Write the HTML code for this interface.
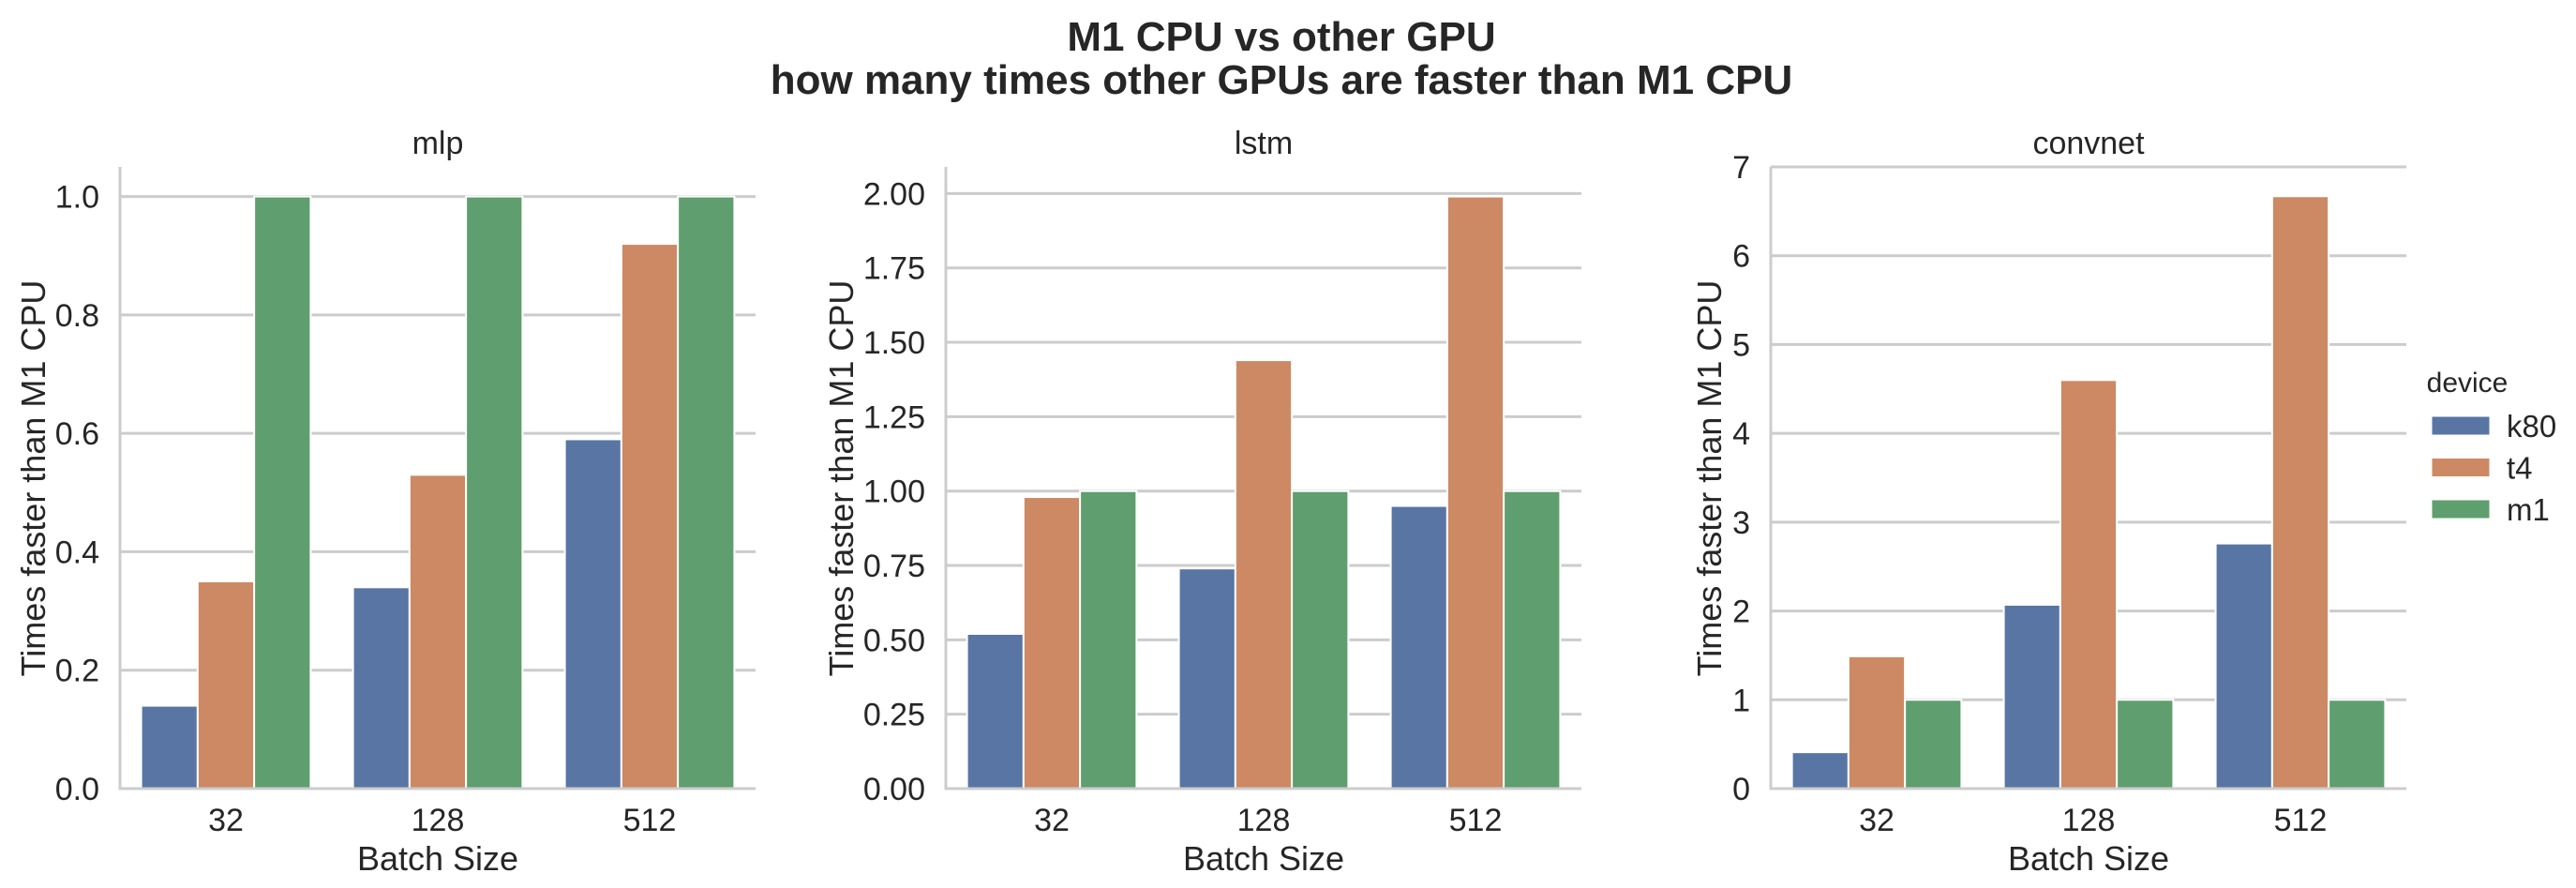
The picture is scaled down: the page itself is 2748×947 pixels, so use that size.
<!DOCTYPE html>
<html><head><meta charset="utf-8"><style>
body{margin:0;background:#fff;}
svg text{font-family:"Liberation Sans",Arial,sans-serif;fill:#262626;}
</style></head><body>
<svg id="chart" width="2748" height="942" xmlns="http://www.w3.org/2000/svg">
<text x="1367" y="54" font-size="44" font-weight="bold" text-anchor="middle">M1 CPU vs other GPU</text>
<text x="1367" y="100" font-size="44" font-weight="bold" text-anchor="middle">how many times other GPUs are faster than M1 CPU</text>
<g id="panels"></g>
<g id="legend">
<text x="2632" y="418" font-size="30" text-anchor="middle">device</text>
</g>
</svg>
<script>
const categories = ["32", "128", "512"];
const devices = ["k80", "t4", "m1"];
const panelNames = ["mlp", "lstm", "convnet"];
const mlpK80 = [0.14, 0.34, 0.59];
const mlpT4 = [0.35, 0.53, 0.92];
const mlpM1 = [1, 1, 1];
const lstmK80 = [0.52, 0.74, 0.95];
const lstmT4 = [0.98, 1.44, 1.99];
const lstmM1 = [1, 1, 1];
const convK80 = [0.41, 2.07, 2.76];
const convT4 = [1.49, 4.60, 6.67];
const convM1 = [1, 1, 1];
const mlpTicks = ["0.0", "0.2", "0.4", "0.6", "0.8", "1.0"];
const lstmTicks = ["0.00", "0.25", "0.50", "0.75", "1.00", "1.25", "1.50", "1.75", "2.00"];
const convTicks = ["0", "1", "2", "3", "4", "5", "6", "7"];

const NS = "http://www.w3.org/2000/svg";
const colors = ["#5875a4", "#cc8963", "#5f9e6e"];
const panelsG = document.getElementById("panels");
function mk(tag, attrs, parent, txt) {
  const e = document.createElementNS(NS, tag);
  for (const k in attrs) e.setAttribute(k, attrs[k]);
  if (txt !== undefined) e.textContent = txt;
  parent.appendChild(e);
  return e;
}
const series = [[mlpK80, mlpT4, mlpM1], [lstmK80, lstmT4, lstmM1], [convK80, convT4, convM1]];
const tickSets = [mlpTicks, lstmTicks, convTicks];
const lefts = [128, 1009, 1889];
const width = 678, top0 = 178, bottom = 841;
for (let p = 0; p < 3; p++) {
  const g = mk("g", {}, panelsG);
  
  
  const L = lefts[p], R = L + width;
  const ticks = tickSets[p].map(Number);
  const maxData = Math.max(...series[p].flat());
  const ymax = p === 2 ? Number(tickSets[p][tickSets[p].length - 1]) : maxData * 1.05;
  const y = v => bottom - (v / ymax) * (bottom - top0);
  const band = width / categories.length;
  const x = i => L + band * i + band / 2;
  ticks.forEach((t, i) => {
    const gl = mk("line", {x1: L, x2: R, y1: y(t), y2: y(t), stroke: "#cccccc", "stroke-width": 3}, g);
    
    
    const tl = mk("text", {x: L - 22, y: y(t) + 12, "font-size": 34, "text-anchor": "end"}, g, tickSets[p][i]);
    
    
  });
  const bw = band * 0.8 / 3;
  series[p].forEach((vals, s) => {
    vals.forEach((v, i) => {
      const bx = x(i) - band * 0.4 + s * bw;
      const r = mk("rect", {x: bx, y: y(v), width: bw, height: bottom - y(v), fill: colors[s], stroke: "#ffffff", "stroke-width": 2}, g);
      
      
    });
  });
  const sl = mk("line", {x1: L, x2: L, y1: top0, y2: bottom + 1.5, stroke: "#cccccc", "stroke-width": 3}, g);
  
  
  const sb = mk("line", {x1: L - 1.5, x2: R, y1: bottom, y2: bottom, stroke: "#cccccc", "stroke-width": 3}, g);
  
  
  categories.forEach((c, i) => {
    const xt = mk("text", {x: x(i), y: 886, "font-size": 34, "text-anchor": "middle"}, g, c);
    
    
  });
  const xl = mk("text", {x: L + width / 2, y: 928, "font-size": 36, "text-anchor": "middle"}, g, "Batch Size");
  
  
  const ylx = [48, 910, 1836][p];
  const yl = mk("text", {x: ylx, y: 510, "font-size": 36, "text-anchor": "middle", transform: "rotate(-90 " + ylx + " 510)"}, g, "Times faster than M1 CPU");
  
  
  const pt = mk("text", {x: L + width / 2, y: 164, "font-size": 34, "text-anchor": "middle"}, g, panelNames[p]);
  
  
}
const lg = document.getElementById("legend");
devices.forEach((d, i) => {
  const cy = 454 + i * 44.5;
  const r = mk("rect", {x: 2594, y: cy - 10, width: 62, height: 20, fill: colors[i], stroke: "#ffffff", "stroke-width": 1}, lg);
  
  
  const t = mk("text", {x: 2674, y: cy + 12, "font-size": 33}, lg, d);
  
  
});
</script>
</body></html>
